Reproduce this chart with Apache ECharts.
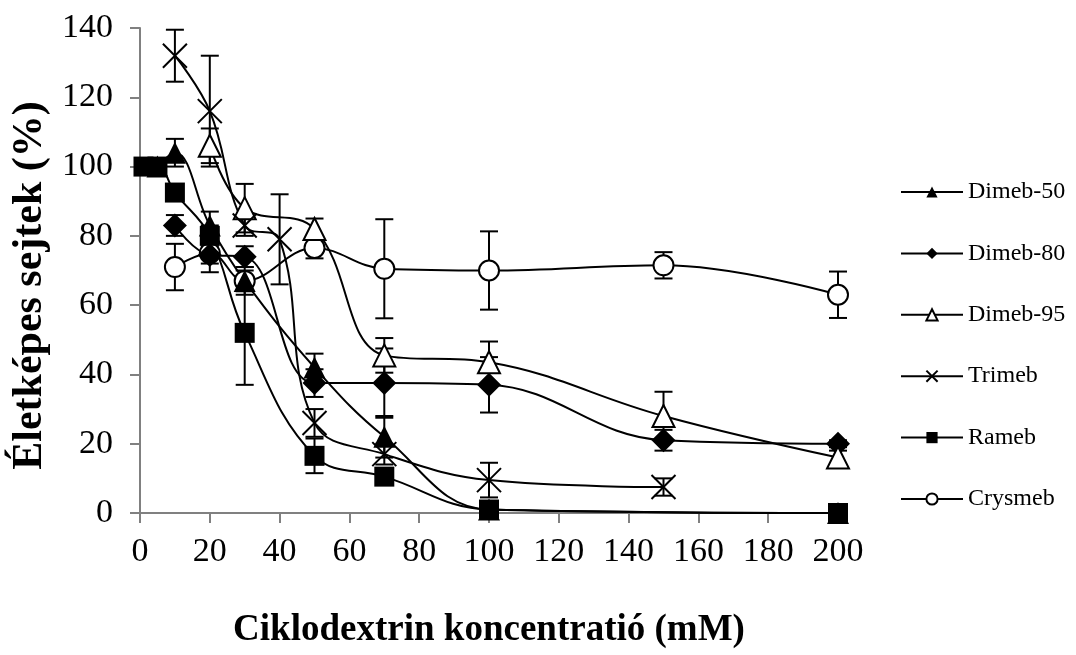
<!DOCTYPE html>
<html>
<head>
<meta charset="UTF-8">
<script src="https://cdn.jsdelivr.net/npm/echarts@6/dist/echarts.min.js"></script>
<style>
  html, body { margin: 0; padding: 0; background: #fff; }
  #chart { width: 1076px; height: 655px; }
</style>
</head>
<body>
<div id="chart"></div>
<script>
// adatok (koncentráció mM, életképes sejtek %, hiba ±)
const dimeb50X = [5, 10, 20, 30, 50, 70, 100, 200];
const dimeb50Y = [100, 104, 83, 67, 42, 22, 1, 0];
const dimeb50Err = [0, 4, 4, 4, 4, 6, 0, 0];

const dimeb80X = [10, 20, 30, 50, 70, 100, 150, 200];
const dimeb80Y = [83, 74.5, 74, 37.5, 37.5, 37, 21, 20];
const dimeb80Err = [3, 5, 3, 4, 10, 8, 3, 1];

const dimeb95X = [20, 30, 50, 70, 100, 150, 200];
const dimeb95Y = [106, 88, 82, 45.5, 43.5, 28, 16];
const dimeb95Err = [5, 7, 3, 5, 6, 7, 2];

const trimebX = [10, 20, 30, 40, 50, 70, 100, 150];
const trimebY = [132, 116, 83, 79, 26, 17, 9.5, 7.5];
const trimebErr = [7.5, 16, 3, 13, 4, 3, 5, 2.5];

const ramebX = [1, 5, 10, 20, 30, 50, 70, 100, 200];
const ramebY = [100, 100, 92.5, 80, 52, 16.5, 10.5, 1, 0];
const ramebErr = [0, 0, 0, 3, 15, 5, 0, 0, 0];

const crysmebX = [10, 20, 30, 50, 70, 100, 150, 200];
const crysmebY = [71, 75, 67, 76.5, 70.5, 70, 71.5, 63];
const crysmebErr = [6.7, 3, 3, 3, 14.3, 11.3, 3.8, 6.7];

const seriesNames = ['Dimeb-50', 'Dimeb-80', 'Dimeb-95', 'Trimeb', 'Rameb', 'Crysmeb'];

const font = 'Liberation Serif, Times New Roman, serif';
const crossPath = 'path://M0,0L24,24M24,0L0,24';

const pairs = (xs, ys) => xs.map((x, i) => [x, ys[i]]);
const errRows = (xs, ys, es) =>
  xs.map((x, i) => [x, ys[i] - es[i], ys[i] + es[i]]).filter((r, i) => es[i] > 0);

function errorSeries(xs, ys, es) {
  return {
    type: 'custom',
    silent: true,
    data: errRows(xs, ys, es),
    renderItem: (params, api) => {
      const lo = api.coord([api.value(0), api.value(1)]);
      const hi = api.coord([api.value(0), api.value(2)]);
      const w = 9;
      const style = { stroke: '#000', lineWidth: 2 };
      return {
        type: 'group',
        children: [
          { type: 'line', shape: { x1: lo[0], y1: lo[1], x2: hi[0], y2: hi[1] }, style },
          { type: 'line', shape: { x1: lo[0] - w, y1: lo[1], x2: lo[0] + w, y2: lo[1] }, style },
          { type: 'line', shape: { x1: hi[0] - w, y1: hi[1], x2: hi[0] + w, y2: hi[1] }, style }
        ]
      };
    },
    z: 1
  };
}

function lineSeries(name, xs, ys, symbol, size, fill) {
  return {
    name,
    type: 'line',
    smooth: 0.4,
    data: pairs(xs, ys),
    symbol,
    symbolSize: size,
    showAllSymbol: true,
    lineStyle: { color: '#000', width: 2 },
    itemStyle: { color: fill, borderColor: '#000', borderWidth: fill === '#000' ? 0 : 2 },
    emphasis: { disabled: true },
    z: 2
  };
}

const chart = echarts.init(document.getElementById('chart'));
chart.setOption({
  animation: false,
  grid: { left: 140, right: 238, top: 28, bottom: 142, outerBoundsMode: 'none', containLabel: false },
  legend: {
    data: seriesNames,
    orient: 'vertical',
    left: 895,
    top: 175,
    itemWidth: 62,
    itemHeight: 14,
    itemGap: 37.4,
    textStyle: { fontFamily: font, fontSize: 24, color: '#000' }
  },
  xAxis: {
    type: 'value',
    min: 0,
    max: 200,
    interval: 20,
    name: 'Ciklodextrin koncentratió (mM)',
    nameLocation: 'middle',
    nameGap: 99,
    nameTextStyle: { fontFamily: font, fontSize: 37, fontWeight: 'bold', color: '#000' },
    axisLine: { lineStyle: { color: '#808080', width: 2 } },
    axisTick: { inside: false, length: 10, lineStyle: { color: '#808080', width: 2 } },
    axisLabel: { margin: 22, fontFamily: font, fontSize: 34, color: '#000' },
    splitLine: { show: false }
  },
  yAxis: {
    type: 'value',
    min: 0,
    max: 140,
    interval: 20,
    name: 'Életképes sejtek (%)',
    nameLocation: 'middle',
    nameGap: 77,
    nameTextStyle: { fontFamily: font, fontSize: 42, fontWeight: 'bold', color: '#000', padding: [0, 30, 0, 0] },
    axisLine: { show: true, lineStyle: { color: '#808080', width: 2 } },
    axisTick: { show: true, length: 10, lineStyle: { color: '#808080', width: 2 } },
    axisLabel: { margin: 27, fontFamily: font, fontSize: 34, color: '#000' },
    splitLine: { show: false }
  },
  series: [
    errorSeries(dimeb50X, dimeb50Y, dimeb50Err),
    errorSeries(dimeb80X, dimeb80Y, dimeb80Err),
    errorSeries(dimeb95X, dimeb95Y, dimeb95Err),
    errorSeries(trimebX, trimebY, trimebErr),
    errorSeries(ramebX, ramebY, ramebErr),
    errorSeries(crysmebX, crysmebY, crysmebErr),
    lineSeries('Crysmeb', crysmebX, crysmebY, 'circle', 20, '#fff'),
    lineSeries('Dimeb-50', dimeb50X, dimeb50Y, 'triangle', 22, '#000'),
    lineSeries('Dimeb-80', dimeb80X, dimeb80Y, 'diamond', 24, '#000'),
    lineSeries('Dimeb-95', dimeb95X, dimeb95Y, 'triangle', 22, '#fff'),
    lineSeries('Trimeb', trimebX, trimebY, crossPath, 24, 'none'),
    lineSeries('Rameb', ramebX, ramebY, 'rect', 20, '#000')
  ]
});
</script>
</body>
</html>
